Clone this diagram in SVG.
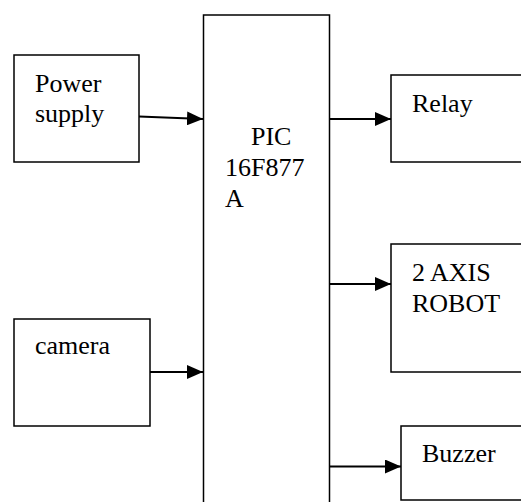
<svg xmlns="http://www.w3.org/2000/svg" width="521" height="502" viewBox="0 0 521 502">
<defs>
<marker id="ah" markerWidth="16" markerHeight="14" refX="16" refY="7" orient="auto" markerUnits="userSpaceOnUse">
<path d="M0,0 L16,7 L0,14 Z" fill="#000"/>
</marker>
</defs>
<style>
.box{fill:#fff;stroke:#000;stroke-width:1.5}
.lbl{font-size:26px;fill:#000}
.conn{stroke:#000;stroke-width:2;fill:none}
</style>
<rect width="521" height="502" fill="#fff"/>
<g font-family="'Liberation Serif', 'Times New Roman', 'DejaVu Serif', serif">
<g id="power">
<rect class="box" x="14" y="55" width="125" height="107"/>
<text class="lbl" x="35" y="92">Power</text>
<text class="lbl" x="35" y="122">supply</text>
</g>
<g id="pic">
<path class="box" d="M203.5,510 L203.5,15 L329.5,15 L329.5,510"/>
<text class="lbl" x="251" y="145">PIC</text>
<text class="lbl" x="225" y="176">16F877</text>
<text class="lbl" x="225" y="207">A</text>
</g>
<g id="relay">
<rect class="box" x="391" y="75" width="140" height="87"/>
<text class="lbl" x="412" y="112">Relay</text>
</g>
<g id="robot">
<rect class="box" x="391" y="244" width="140" height="128"/>
<text class="lbl" x="412" y="281">2 AXIS</text>
<text class="lbl" x="412" y="312">ROBOT</text>
</g>
<g id="camera">
<rect class="box" x="14" y="319" width="136" height="107"/>
<text class="lbl" x="35" y="354">camera</text>
</g>
<g id="buzzer">
<rect class="box" x="401" y="426" width="130" height="74"/>
<text class="lbl" x="422" y="462">Buzzer</text>
</g>
</g>
<g id="connectors">
<line class="conn" x1="139" y1="116.5" x2="203" y2="119" marker-end="url(#ah)"/>
<line class="conn" x1="150" y1="372" x2="203" y2="372" marker-end="url(#ah)"/>
<line class="conn" x1="330" y1="119" x2="391" y2="119" marker-end="url(#ah)"/>
<line class="conn" x1="330" y1="284" x2="391" y2="284" marker-end="url(#ah)"/>
<line class="conn" x1="330" y1="466.5" x2="401" y2="466.5" marker-end="url(#ah)"/>
</g>
</svg>
